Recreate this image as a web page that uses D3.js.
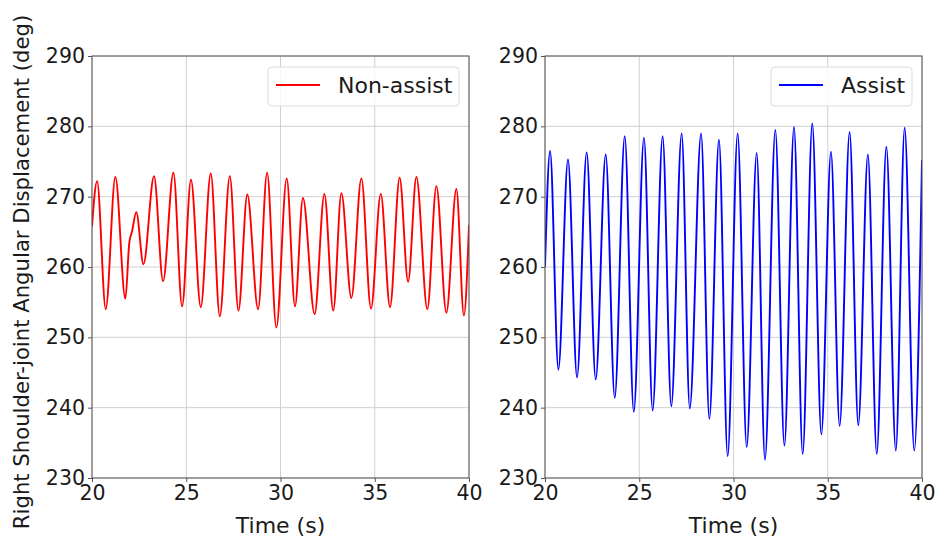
<!DOCTYPE html>
<html>
<head>
<meta charset="utf-8">
<script src="https://cdn.jsdelivr.net/npm/d3@7"></script>
<style>
  body { margin: 0; background: #fff; }
  svg text { font-family: "DejaVu Sans", sans-serif; fill: #1a1a1a; }
</style>
</head>
<body>
<svg id="chart" width="938" height="544"></svg>
<script>
// values (peaks and troughs of each cycle)
var nonAssistTime  = [20.0, 20.27, 20.73, 21.24, 21.77, 21.98, 22.12, 22.35, 22.73, 23.29, 23.77, 24.32, 24.78, 25.25, 25.77, 26.30, 26.78, 27.31, 27.77, 28.24, 28.81, 29.29, 29.78, 30.33, 30.77, 31.19, 31.81, 32.33, 32.80, 33.23, 33.76, 34.29, 34.80, 35.32, 35.81, 36.32, 36.77, 37.21, 37.79, 38.27, 38.80, 39.33, 39.73, 40.0];
var nonAssistAngle = [265.8, 272.2, 254.0, 272.8, 255.5, 263.5, 265.0, 267.8, 260.4, 272.9, 258.0, 273.4, 254.4, 272.4, 254.3, 273.3, 253.0, 272.9, 253.8, 270.3, 254.0, 273.4, 251.4, 272.6, 254.4, 269.8, 253.3, 270.4, 253.8, 270.5, 255.6, 272.6, 254.1, 270.4, 254.3, 272.7, 257.9, 272.8, 254.0, 271.5, 253.5, 271.1, 253.1, 266.0];

var assistTime  = [20.0, 20.27, 20.71, 21.22, 21.70, 22.21, 22.69, 23.22, 23.70, 24.23, 24.71, 25.25, 25.71, 26.24, 26.70, 27.25, 27.68, 28.28, 28.72, 29.23, 29.69, 30.22, 30.70, 31.23, 31.67, 32.22, 32.70, 33.21, 33.67, 34.18, 34.66, 35.17, 35.63, 36.16, 36.62, 37.13, 37.60, 38.11, 38.61, 39.08, 39.59, 40.0];
var assistAngle = [260.0, 276.5, 245.4, 275.3, 244.3, 276.3, 244.0, 276.0, 241.4, 278.6, 239.4, 278.4, 239.6, 278.6, 240.2, 279.0, 239.9, 279.0, 238.4, 278.1, 233.1, 279.0, 234.4, 276.2, 232.6, 279.5, 234.6, 279.9, 233.4, 280.4, 236.2, 276.4, 237.4, 279.2, 237.5, 276.0, 233.4, 277.1, 233.9, 279.8, 233.9, 275.2];

var xTicks = [20, 25, 30, 35, 40];
var yTicks = [230, 240, 250, 260, 270, 280, 290];

var svg = d3.select("#chart");
var top_ = 56, bottom = 478, plotW = 377;

var yScale = d3.scaleLinear().domain([230, 290]).range([bottom, top_]);

function drawPanel(left, times, angles, color, label, legendX, legendW, id){
  var xScale = d3.scaleLinear().domain([20, 40]).range([left, left + plotW]);
  var g = svg.append("g");

  // grid
  g.selectAll(".gx").data(xTicks).enter().append("line")
    .attr("x1", function(d){ return xScale(d); }).attr("x2", function(d){ return xScale(d); })
    .attr("y1", top_).attr("y2", bottom)
    .attr("stroke", "#d0d0d0").attr("stroke-width", 1);
  g.selectAll(".gy").data(yTicks).enter().append("line")
    .attr("x1", left).attr("x2", left + plotW)
    .attr("y1", function(d){ return yScale(d); }).attr("y2", function(d){ return yScale(d); })
    .attr("stroke", "#d0d0d0").attr("stroke-width", 1);

  // clip + line
  svg.append("clipPath").attr("id", "clip-" + id).append("rect")
    .attr("x", left).attr("y", top_).attr("width", plotW).attr("height", bottom - top_);

  var pts = times.map(function(t, i){ return [t, angles[i]]; });
  var line = d3.line()
    .x(function(d){ return xScale(d[0]); })
    .y(function(d){ return yScale(d[1]); })
    .curve(d3.curveMonotoneX);

  g.append("path")
    .datum(pts)
    .attr("clip-path", "url(#clip-" + id + ")")
    .attr("d", line)
    .attr("fill", "none")
    .attr("stroke", color)
    .attr("stroke-width", 1.9);

  // frame
  g.append("rect")
    .attr("x", left).attr("y", top_).attr("width", plotW).attr("height", bottom - top_)
    .attr("fill", "none").attr("stroke", "#555").attr("stroke-width", 1);

  // axes
  var xAxis = d3.axisBottom(xScale).tickValues(xTicks).tickSize(4).tickPadding(3);
  var yAxis = d3.axisLeft(yScale).tickValues(yTicks).tickSize(4).tickPadding(3);
  var ax = g.append("g").attr("transform", "translate(0," + bottom + ")").call(xAxis);
  var ay = g.append("g").attr("transform", "translate(" + left + ",0)").call(yAxis);
  [ax, ay].forEach(function(a){
    a.select(".domain").remove();
    a.selectAll(".tick line").attr("stroke", "#555");
    a.selectAll("text").style("font-size", "20.5px").style("font-family", "DejaVu Sans").attr("fill", "#1a1a1a");
  });

  g.append("text")
    .attr("x", left + plotW / 2).attr("y", 533)
    .attr("text-anchor", "middle")
    .style("font-size", "22px")
    .text("Time (s)");

  // legend
  g.append("rect")
    .attr("x", legendX).attr("y", 67).attr("width", legendW).attr("height", 39)
    .attr("rx", 4).attr("fill", "#fff").attr("fill-opacity", 0.8)
    .attr("stroke", "#dcdcdc");
  g.append("line")
    .attr("x1", legendX + 8).attr("x2", legendX + 52)
    .attr("y1", 85).attr("y2", 85)
    .attr("stroke", color).attr("stroke-width", 1.9);
  g.append("text")
    .attr("x", legendX + 70).attr("y", 93)
    .style("font-size", "22px")
    .text(label);
}

drawPanel(92, nonAssistTime, nonAssistAngle, "#ff0000", "Non-assist", 268, 191, "na");
drawPanel(545, assistTime, assistAngle, "#0000ff", "Assist", 771, 141, "as");

svg.append("text")
  .attr("transform", "translate(29,272) rotate(-90)")
  .attr("text-anchor", "middle")
  .style("font-size", "21.2px")
  .text("Right Shoulder-joint Angular Displacement (deg)");
</script>
</body>
</html>
